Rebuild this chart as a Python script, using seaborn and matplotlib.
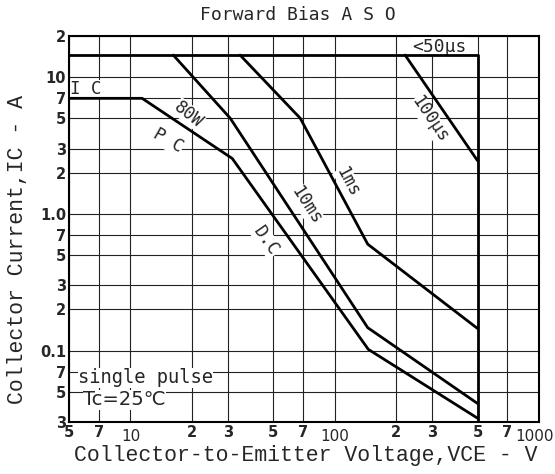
import numpy as np
import pandas as pd
import matplotlib
matplotlib.use("Agg")
import matplotlib.pyplot as plt
import matplotlib.transforms as mtransforms
import seaborn as sns
from matplotlib.ticker import FixedLocator, FixedFormatter, NullLocator

# ---- data ----
bound_v = [5, 500, 500]
bound_i = [14.5, 14.5, 0.03]

dc_v = [5, 11.4, 31.5, 146, 500]
dc_i = [7, 7, 2.54, 0.102, 0.032]

ms10_v = [16.2, 30.8, 145, 500]
ms10_i = [14.5, 5.0, 0.147, 0.041]

ms1_v = [34.4, 67.8, 145, 500]
ms1_i = [14.5, 5.0, 0.60, 0.145]

us100_v = [221, 500]
us100_i = [14.5, 2.45]

x_ticks = [5, 7, 10, 20, 30, 50, 70, 100, 200, 300, 500, 700, 1000]
x_labels = ["5", "7", "10", "2", "3", "5", "7", "100", "2", "3", "5", "7", "1000"]
y_ticks = [0.03, 0.05, 0.07, 0.1, 0.2, 0.3, 0.5, 0.7, 1.0, 2, 3, 5, 7, 10, 20]
y_labels = ["3", "5", "7", "0.1", "2", "3", "5", "7", "1.0", "2", "3", "5", "7", "10", "2"]

curves = {
    "bound": (bound_v, bound_i),
    "dc": (dc_v, dc_i),
    "10ms": (ms10_v, ms10_i),
    "1ms": (ms1_v, ms1_i),
    "100us": (us100_v, us100_i),
}

sns.set_style("white")
plt.rcParams["font.family"] = ["DejaVu Sans"]

fig = plt.figure(figsize=(5.55, 4.74), dpi=100)
ax = fig.add_axes([69 / 555, 1 - 422 / 474, 470 / 555, 386 / 474])

for name, (v, i) in curves.items():
    df = pd.DataFrame({"v": v, "i": i})
    sns.lineplot(data=df, x="v", y="i", ax=ax, color="black", lw=2.0,
                 sort=False, estimator=None, legend=False, zorder=3)

ax.set_xscale("log")
ax.set_yscale("log")
ax.set_xlim(5, 1000)
ax.set_ylim(0.03, 20)

ax.xaxis.set_major_locator(FixedLocator(x_ticks))
ax.xaxis.set_major_formatter(FixedFormatter(x_labels))
ax.xaxis.set_minor_locator(NullLocator())
ax.yaxis.set_major_locator(FixedLocator(y_ticks))
ax.yaxis.set_major_formatter(FixedFormatter(y_labels))
ax.yaxis.set_minor_locator(NullLocator())
ax.tick_params(axis="both", length=0, labelsize=10.5)
ax.tick_params(axis="x", pad=2)
ax.tick_params(axis="y", pad=2)
for t in ax.get_xticklabels() + ax.get_yticklabels():
    t.set_fontweight("bold")

# decade labels on x sit a bit lower and lighter
xt = ax.get_xticklabels()
for idx, dx in ((2, 0), (7, 0), (12, -4)):
    lbl = xt[idx]
    lbl.set_fontweight("medium")
    lbl.set_fontsize(11)
    lbl.set_transform(lbl.get_transform() +
                      mtransforms.ScaledTranslation(dx / 100, -4 / 100, fig.dpi_scale_trans))

ax.grid(True, which="major", color="#222222", lw=0.8, zorder=1)
ax.set_axisbelow(True)
for s in ax.spines.values():
    s.set_color("black")
    s.set_linewidth(1.5)
    s.set_visible(True)

mono = "Liberation Mono"
ax.set_xlabel("Collector-to-Emitter Voltage,VCE - V", fontfamily=mono, fontsize=15.5, va="center")
ax.xaxis.set_label_coords((306 - 69) / 470, (422 - 455) / 386)
ax.set_ylabel("Collector Current,IC - A", fontfamily=mono, fontsize=15.5, va="center")
ax.yaxis.set_label_coords((18 - 69) / 470, (422 - 249) / 386)
fig.text(0.536, 1 - 15 / 474, "Forward Bias A S O", ha="center", va="center",
         fontfamily="DejaVu Sans Mono", fontsize=13)

wb = dict(facecolor="white", edgecolor="none", pad=0.3)
lab = dict(transform=ax.transAxes, ha="center", va="center", fontfamily="DejaVu Sans Mono",
           fontsize=12.5, zorder=2.5, bbox=wb)
ax.text(0.789, 0.972, "<50μs", **{**lab, "fontsize": 13})
ax.text(0.768, 0.782, "100μs", rotation=-56, **lab)
ax.text(0.594, 0.620, "1ms", rotation=-62, **lab)
ax.text(0.505, 0.560, "10ms", rotation=-57, **lab)
ax.text(0.420, 0.468, "D.C", rotation=-55, **lab)
ax.text(0.255, 0.797, "80W", rotation=-38, **lab)
ax.text(0.211, 0.728, "P C", rotation=-30, **lab)
ax.text(0.035, 0.863, "I C", **lab)
ax.text(0.019, 0.114, "single pulse", transform=ax.transAxes, ha="left", va="center",
        fontfamily="DejaVu Sans Mono", fontsize=13.5, bbox=wb, zorder=2.5)
ax.text(0.030, 0.057, "Tc=25℃", transform=ax.transAxes, ha="left", va="center",
        fontfamily="DejaVu Sans", fontsize=14, bbox=wb, zorder=2.5)

fig.savefig("out.png", dpi=100, facecolor="white")
